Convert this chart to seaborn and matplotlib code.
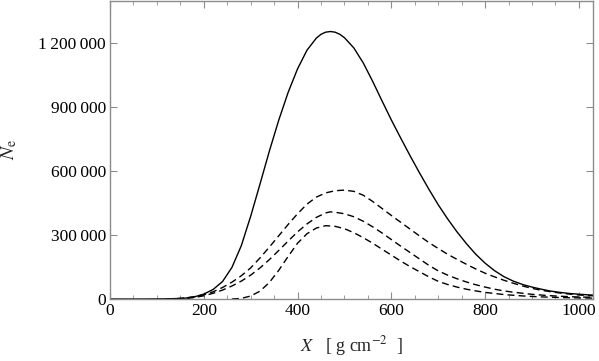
import pandas as pd
import seaborn as sns
import matplotlib.pyplot as plt
from matplotlib.ticker import MultipleLocator

# profils (X en g/cm2, N_e)
x_solid = [0, 60, 80, 100, 120, 140, 160, 180, 200, 220, 240, 260, 280, 300, 320, 340,
           360, 380, 400, 420, 440, 450, 460, 470, 480, 490, 500, 520, 540, 560, 580,
           600, 620, 640, 660, 680, 700, 720, 740, 760, 780, 800, 820, 840, 860, 880,
           900, 920, 940, 960, 980, 1000, 1020, 1030]
n_solid = [0, 0, 200, 500, 1000, 2000, 4000, 10000, 23000, 45000, 82000, 148000,
           250000, 388000, 540000, 695000, 840000, 970000, 1080000, 1167000, 1224000,
           1242000, 1252000, 1255000, 1252000, 1242000, 1226000, 1178000, 1108000,
           1022000, 930000, 840000, 755000, 672000, 592000, 515000, 442000, 376000,
           315000, 260000, 210000, 168000, 133000, 105000, 84000, 68000, 56000, 46000,
           37000, 31000, 26000, 22500, 19500, 18500]

x_dash1 = [120, 140, 160, 180, 200, 220, 240, 260, 280, 300, 320, 340, 360, 380, 400,
           420, 440, 460, 480, 500, 520, 540, 560, 580, 600, 620, 640, 660, 680, 700,
           720, 740, 760, 780, 800, 820, 840, 860, 880, 900, 920, 940, 960, 980, 1000,
           1020, 1030]
n_dash1 = [0, 1500, 5000, 11000, 20000, 34000, 54000, 79000, 109000, 146000, 193000,
           244000, 297000, 350000, 400000, 445000, 478000, 498000, 508000, 511000,
           505000, 487000, 458000, 425000, 392000, 360000, 328000, 296000, 265000,
           237000, 210000, 186000, 163000, 141000, 121000, 104000, 88000, 74000,
           61000, 50000, 41000, 34000, 28000, 23000, 19000, 16000, 15000]

x_dash2 = [140, 160, 180, 200, 220, 240, 260, 280, 300, 320, 340, 360, 380, 400, 420,
           440, 460, 470, 480, 500, 520, 540, 560, 580, 600, 620, 640, 660, 680, 700,
           720, 740, 760, 780, 800, 820, 840, 860, 880, 900, 920, 940, 960, 980, 1000,
           1020, 1030]
n_dash2 = [0, 2000, 7000, 15000, 27000, 42000, 61000, 84000, 112000, 146000, 185000,
           228000, 272000, 315000, 352000, 383000, 404000, 409000, 407000, 400000,
           386000, 365000, 339000, 310000, 279000, 248000, 218000, 188000, 158000,
           132000, 112000, 95000, 80000, 67000, 56000, 46000, 38000, 32000, 27000,
           22000, 18500, 15500, 13000, 11000, 9500, 8500, 8000]

x_dash3 = [260, 280, 300, 320, 340, 360, 380, 400, 420, 440, 460, 480, 500, 520, 540,
           560, 580, 600, 620, 640, 660, 680, 700, 720, 740, 760, 780, 800, 820, 840,
           860, 880, 900, 920, 940, 960, 980, 1000, 1020, 1030]
n_dash3 = [0, 3000, 14000, 37000, 78000, 135000, 200000, 262000, 306000, 333000,
           344000, 341000, 330000, 311000, 288000, 262000, 234000, 206000, 178000,
           152000, 128000, 104000, 83000, 68000, 56000, 46000, 38000, 31000, 26000,
           21000, 17500, 14500, 12000, 10000, 8500, 7000, 6000, 5000, 4500, 4000]

x_ticks = [0, 200, 400, 600, 800, 1000]
y_ticks = [0, 300000, 600000, 900000, 1200000]
y_labels = ["0", "300\u2009000", "600\u2009000", "900\u2009000", "1\u2009200\u2009000"]

sns.set_style("ticks")
plt.rcParams["font.family"] = ["Liberation Serif", "DejaVu Serif"]
plt.rcParams["mathtext.fontset"] = "stix"

gris = "#8c8c8c"
fig = plt.figure(figsize=(5.99, 3.61), dpi=100)
ax = fig.add_axes([0.1836, 0.1717, 0.8064, 0.8266])

sns.lineplot(x=x_solid, y=n_solid, ax=ax, color="black", lw=1.0)
for xs, ns in [(x_dash1, n_dash1), (x_dash2, n_dash2), (x_dash3, n_dash3)]:
    sns.lineplot(x=xs, y=ns, ax=ax, color="black", lw=1.0, linestyle=(0, (5, 3)))

ax.set_xlim(0, 1030)
ax.set_ylim(0, 1.4e6)
ax.set_xticks(x_ticks)
ax.xaxis.set_minor_locator(MultipleLocator(50))
ax.set_yticks(y_ticks)
ax.set_yticklabels(y_labels)

for s in ax.spines.values():
    s.set_color(gris)
    s.set_linewidth(1.0)
ax.tick_params(which="both", direction="in", top=True, right=True, color=gris,
               labelsize=12.5, labelcolor="black")
ax.tick_params(which="major", length=5, width=0.8, pad=3)
ax.tick_params(which="minor", length=3, width=0.6)

ax.set_xlabel(r"$X$   [ g cm$^{-2}$  ]", fontsize=13, labelpad=11)
ax.set_ylabel(r"$N_{\mathrm{e}}$", fontsize=14, labelpad=14)

fig.savefig("out.png", dpi=100)
